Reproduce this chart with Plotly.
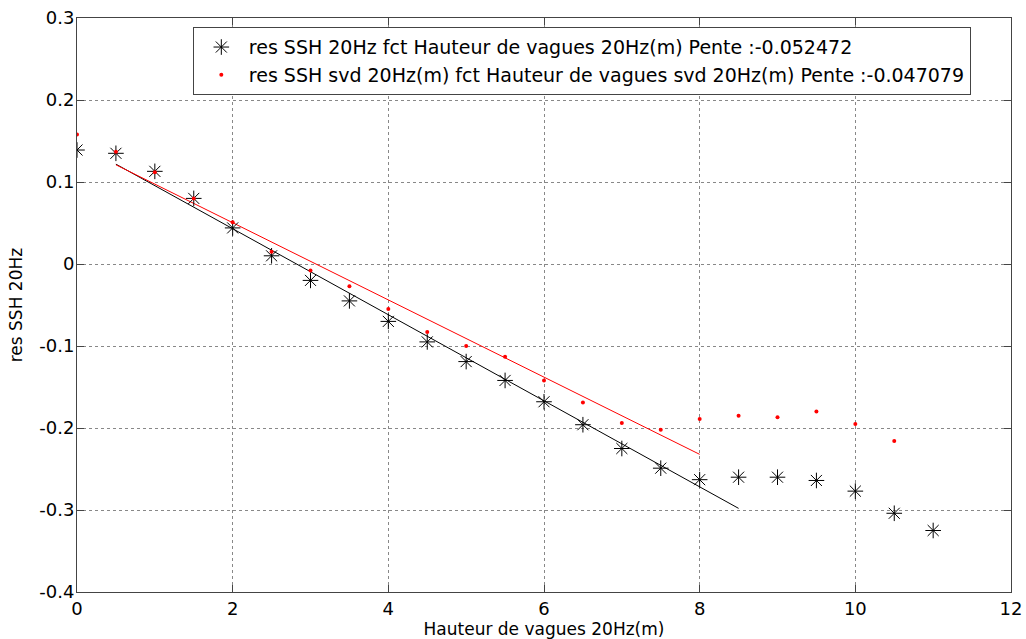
import plotly.graph_objects as go

# wave height bins (m)
hauteur = [0, 0.5, 1, 1.5, 2, 2.5, 3, 3.5, 4, 4.5, 5, 5.5, 6, 6.5, 7, 7.5,
           8, 8.5, 9, 9.5, 10, 10.5, 11]
res_ssh = [0.139, 0.135, 0.113, 0.080, 0.044, 0.010, -0.020, -0.045, -0.070,
           -0.095, -0.119, -0.142, -0.168, -0.196, -0.225, -0.249, -0.263,
           -0.260, -0.260, -0.264, -0.277, -0.304, -0.325]

hauteur_svd = hauteur[:22]
res_ssh_svd = [0.158, 0.137, 0.112, 0.080, 0.051, 0.015, -0.008, -0.027, -0.055,
               -0.083, -0.100, -0.113, -0.142, -0.169, -0.194, -0.202, -0.189,
               -0.185, -0.187, -0.180, -0.195, -0.216]

# linear fits: x range, slope, intercept
fit_x = [0.5, 8.5]
fit_pente, fit_orig = -0.052472, 0.148
fit_svd_x = [0.5, 8]
fit_svd_pente, fit_svd_orig = -0.047079, 0.1445

xticks = [0, 2, 4, 6, 8, 10, 12]
yticks = [0.3, 0.2, 0.1, 0, -0.1, -0.2, -0.3, -0.4]
ytext = ['0.3', '0.2', '0.1', '0', '-0.1', '-0.2', '-0.3', '-0.4']

fig = go.Figure()
fig.add_trace(go.Scatter(
    x=fit_x, y=[fit_orig + fit_pente * v for v in fit_x],
    mode='lines', line=dict(color='black', width=1), showlegend=False
))
fig.add_trace(go.Scatter(
    x=fit_svd_x, y=[fit_svd_orig + fit_svd_pente * v for v in fit_svd_x],
    mode='lines', line=dict(color='red', width=1), showlegend=False
))
fig.add_trace(go.Scatter(
    x=hauteur, y=res_ssh, mode='markers',
    marker=dict(symbol='asterisk-open', size=13, color='black',
                line=dict(color='black', width=1)),
    name='res SSH 20Hz fct Hauteur de vagues 20Hz(m) Pente :-0.052472'
))
fig.add_trace(go.Scatter(
    x=hauteur_svd, y=res_ssh_svd, mode='markers',
    marker=dict(symbol='circle', size=4, color='red'),
    name='res SSH svd 20Hz(m) fct Hauteur de vagues svd 20Hz(m) Pente :-0.047079'
))

axis_style = dict(
    showline=True, linecolor='#444444', linewidth=1, mirror='ticks',
    ticks='inside', ticklen=7, tickcolor='#444444',
    showgrid=True, gridcolor='#888888', griddash='dot', gridwidth=1,
    zeroline=False, tickfont=dict(size=18, color='black'), automargin=False,
)

fig.update_layout(
    width=1026, height=639,
    paper_bgcolor='white', plot_bgcolor='white',
    font=dict(family='DejaVu Sans, Arial, sans-serif', color='black'),
    margin=dict(l=77, r=15, t=18, b=47),
    xaxis=dict(range=[0, 12], tickvals=xticks, **axis_style,
               title=dict(text='Hauteur de vagues 20Hz(m)', font=dict(size=17),
                          standoff=0)),
    yaxis=dict(range=[-0.4, 0.3], tickvals=yticks, ticktext=ytext, **axis_style,
               ticklabelstandoff=-2),
    legend=dict(x=0.124, y=0.984, xanchor='left', yanchor='top',
                bordercolor='#444444', borderwidth=1, bgcolor='white',
                font=dict(size=19), tracegroupgap=0, itemwidth=45),
    showlegend=True,
)
# y title sits closer to the ticks than plotly allows, so place it by hand
fig.add_annotation(text='res SSH 20Hz', textangle=-90, font=dict(size=17),
                   xref='paper', yref='paper', x=-0.065, y=0.5,
                   xanchor='center', yanchor='middle', showarrow=False)

# drop the default 8px body margin so the figure fills the window
fig.write_html("out.html", config={'displayModeBar': False},
               post_script="document.body.style.margin='0';")
